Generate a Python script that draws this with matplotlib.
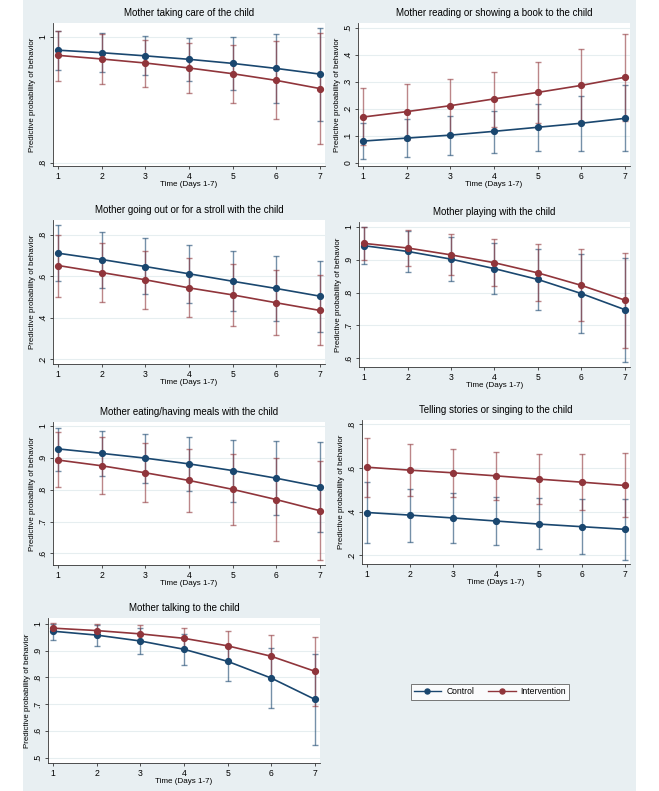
import matplotlib
matplotlib.use("Agg")
import matplotlib.pyplot as plt
from matplotlib.lines import Line2D
from matplotlib.patches import Rectangle

plt.rcParams['font.family'] = ['Liberation Sans', 'DejaVu Sans']

days = [1, 2, 3, 4, 5, 6, 7]
series_names = ["Control", "Intervention"]
titles = [
    "Mother taking care of the child",
    "Mother reading or showing a book to the child",
    "Mother going out or for a stroll with the child",
    "Mother playing with the child",
    "Mother eating/having meals with the child",
    "Telling stories or singing to the child",
    "Mother talking to the child",
]

# Panel 1: taking care
care_ctrl = [0.979, 0.975, 0.970, 0.9645, 0.958, 0.950, 0.941]
care_ctrl_hi = [1.0095, 1.006, 1.002, 0.999, 0.9995, 1.004, 1.015]
care_ctrl_lo = [0.948, 0.945, 0.939, 0.930, 0.916, 0.895, 0.866]
care_int = [0.9708, 0.965, 0.9586, 0.9507, 0.9416, 0.931, 0.918]
care_int_hi = [1.0095, 1.005, 0.996, 0.990, 0.988, 0.994, 1.007]
care_int_lo = [0.9305, 0.926, 0.920, 0.911, 0.895, 0.869, 0.830]

# Panel 2: reading
read_ctrl = [0.080, 0.091, 0.102, 0.116, 0.131, 0.146, 0.164]
read_ctrl_hi = [0.147, 0.160, 0.174, 0.193, 0.219, 0.248, 0.286]
read_ctrl_lo = [0.012, 0.022, 0.030, 0.037, 0.043, 0.044, 0.043]
read_int = [0.169, 0.189, 0.211, 0.236, 0.260, 0.286, 0.316]
read_int_hi = [0.277, 0.291, 0.310, 0.337, 0.373, 0.420, 0.475]
read_int_lo = [0.064, 0.085, 0.105, 0.133, 0.147, 0.154, 0.154]

# Panel 3: going out
out_ctrl = [0.7115, 0.681, 0.647, 0.612, 0.576, 0.541, 0.504]
out_ctrl_hi = [0.850, 0.816, 0.784, 0.752, 0.724, 0.700, 0.676]
out_ctrl_lo = [0.575, 0.543, 0.512, 0.473, 0.430, 0.382, 0.330]
out_int = [0.652, 0.618, 0.583, 0.544, 0.510, 0.472, 0.435]
out_int_hi = [0.800, 0.761, 0.724, 0.689, 0.657, 0.628, 0.605]
out_int_lo = [0.502, 0.475, 0.441, 0.403, 0.361, 0.316, 0.266]

# Panel 4: playing
play_ctrl = [0.943, 0.9255, 0.902, 0.873, 0.840, 0.797, 0.748]
play_ctrl_hi = [1.000, 0.987, 0.969, 0.951, 0.934, 0.919, 0.907]
play_ctrl_lo = [0.887, 0.863, 0.835, 0.797, 0.746, 0.677, 0.589]
play_int = [0.950, 0.936, 0.915, 0.891, 0.860, 0.822, 0.777]
play_int_hi = [1.000, 0.991, 0.978, 0.962, 0.947, 0.933, 0.922]
play_int_lo = [0.900, 0.881, 0.854, 0.820, 0.773, 0.713, 0.632]

# Panel 5: meals
meal_ctrl = [0.928, 0.914, 0.899, 0.881, 0.860, 0.836, 0.809]
meal_ctrl_hi = [0.994, 0.984, 0.975, 0.965, 0.957, 0.952, 0.950]
meal_ctrl_lo = [0.860, 0.843, 0.822, 0.795, 0.762, 0.719, 0.667]
meal_int = [0.893, 0.875, 0.853, 0.829, 0.801, 0.769, 0.734]
meal_int_hi = [0.981, 0.964, 0.946, 0.928, 0.911, 0.900, 0.891]
meal_int_lo = [0.807, 0.786, 0.761, 0.729, 0.690, 0.638, 0.578]

# Panel 6: stories
story_ctrl = [0.396, 0.384, 0.371, 0.357, 0.343, 0.331, 0.319]
story_ctrl_hi = [0.537, 0.506, 0.485, 0.468, 0.462, 0.459, 0.460]
story_ctrl_lo = [0.258, 0.261, 0.255, 0.247, 0.229, 0.208, 0.179]
story_int = [0.6035, 0.590, 0.578, 0.564, 0.549, 0.535, 0.520]
story_int_hi = [0.739, 0.712, 0.687, 0.672, 0.664, 0.663, 0.6675]
story_int_lo = [0.468, 0.4695, 0.468, 0.454, 0.4345, 0.407, 0.377]

# Panel 7: talking
talk_ctrl = [0.9726, 0.958, 0.936, 0.905, 0.860, 0.7975, 0.718]
talk_ctrl_hi = [0.999, 0.9975, 0.985, 0.9626, 0.919, 0.910, 0.888]
talk_ctrl_lo = [0.941, 0.919, 0.889, 0.848, 0.785, 0.687, 0.547]
talk_int = [0.984, 0.975, 0.9626, 0.946, 0.918, 0.879, 0.823]
talk_int_hi = [1.0025, 1.000, 0.995, 0.985, 0.9726, 0.959, 0.950]
talk_int_lo = [0.970, 0.954, 0.931, 0.909, 0.863, 0.797, 0.692]

panels = [
    (care_ctrl, care_ctrl_lo, care_ctrl_hi, care_int, care_int_lo, care_int_hi),
    (read_ctrl, read_ctrl_lo, read_ctrl_hi, read_int, read_int_lo, read_int_hi),
    (out_ctrl, out_ctrl_lo, out_ctrl_hi, out_int, out_int_lo, out_int_hi),
    (play_ctrl, play_ctrl_lo, play_ctrl_hi, play_int, play_int_lo, play_int_hi),
    (meal_ctrl, meal_ctrl_lo, meal_ctrl_hi, meal_int, meal_int_lo, meal_int_hi),
    (story_ctrl, story_ctrl_lo, story_ctrl_hi, story_int, story_int_lo, story_int_hi),
    (talk_ctrl, talk_ctrl_lo, talk_ctrl_hi, talk_int, talk_int_lo, talk_int_hi),
]

yticks_list = [
    [0.8, 1.0],
    [0, 0.1, 0.2, 0.3, 0.4, 0.5],
    [0.2, 0.4, 0.6, 0.8],
    [0.6, 0.7, 0.8, 0.9, 1.0],
    [0.6, 0.7, 0.8, 0.9, 1.0],
    [0.2, 0.4, 0.6, 0.8],
    [0.5, 0.6, 0.7, 0.8, 0.9, 1.0],
]
ylims = [
    (0.7947, 1.0223),
    (-0.0123, 0.517),
    (0.176, 0.872),
    (0.573, 1.0153),
    (0.5635, 1.0125),
    (0.160, 0.820),
    (0.480, 1.022),
]
# pixel boxes: left, right, top, bottom
boxes = [
    (53, 325, 23, 166),
    (358, 630, 23, 166),
    (53, 325, 220, 364),
    (359, 630, 222, 367),
    (53, 325, 422, 565),
    (362, 630, 420, 564),
    (48, 320, 618, 763),
]

W, H = 659, 791
BG = "#e8eff2"
C_CTRL = "#1a476f"
C_INT = "#90353b"
GRID = "#e6eef0"

fig = plt.figure(figsize=(W / 100, H / 100), dpi=100, facecolor="white")
fig.patches.append(Rectangle((23 / W, 0), (636 - 23) / W, 1, transform=fig.transFigure,
                             facecolor=BG, edgecolor="none", zorder=-10))


def fmt(v):
    if abs(v) < 1e-9:
        return "0"
    if abs(v - 1) < 1e-9:
        return "1"
    return ("%.1f" % v).lstrip("0")


for i, (title, data) in enumerate(zip(titles, panels)):
    l, r, t, b = boxes[i]
    ax = fig.add_axes([l / W, 1 - b / H, (r - l) / W, (b - t) / H])
    ax.set_facecolor("white")
    c, clo, chi, iv, ilo, ihi = data
    for vals, lo, hi, col in [(c, clo, chi, C_CTRL), (iv, ilo, ihi, C_INT)]:
        yerr = [[v - a for v, a in zip(vals, lo)], [h - v for v, h in zip(vals, hi)]]
        ax.errorbar(days, vals, yerr=yerr, fmt="none", ecolor=col, elinewidth=1.0,
                    capsize=2, capthick=1.0, alpha=0.6, zorder=2)
    for vals, col in [(c, C_CTRL), (iv, C_INT)]:
        ax.plot(days, vals, color=col, lw=1.2, marker="o", ms=4.2, zorder=3)
    ax.set_xlim(0.88, 7.12)
    ax.set_ylim(*ylims[i])
    ax.set_xticks(days)
    ax.set_yticks(yticks_list[i])
    ax.set_yticklabels([fmt(v) for v in yticks_list[i]], rotation=90, va="center")
    ax.grid(axis="y", color=GRID, lw=0.8)
    ax.set_axisbelow(True)
    for s in ["top", "right"]:
        ax.spines[s].set_visible(False)
    for s in ["left", "bottom"]:
        ax.spines[s].set_color("#333333")
        ax.spines[s].set_linewidth(0.6)
    ax.tick_params(axis="both", labelsize=6.2, length=2.5, width=0.6, color="#333333", pad=1.5)
    ax.set_title(title, fontsize=7.0, pad=5)
    ax.set_xlabel("Time (Days 1-7)", fontsize=5.8, labelpad=0.5)
    ax.set_ylabel("Predictive probability of behavior", fontsize=5.7, labelpad=2)

handles = [Line2D([0], [0], color=C_CTRL, lw=1.0, marker="o", ms=3.6),
           Line2D([0], [0], color=C_INT, lw=1.0, marker="o", ms=3.6)]
leg = fig.legend(handles, series_names, loc="center", bbox_to_anchor=(490 / W, 1 - 692 / H),
                 ncol=2, fontsize=6.2, frameon=True, fancybox=False, handlelength=3.2,
                 columnspacing=1.6, borderpad=0.35, handletextpad=0.6)
leg.get_frame().set_edgecolor("#555555")
leg.get_frame().set_linewidth(0.7)

fig.savefig("out.png", dpi=100, facecolor="white")
